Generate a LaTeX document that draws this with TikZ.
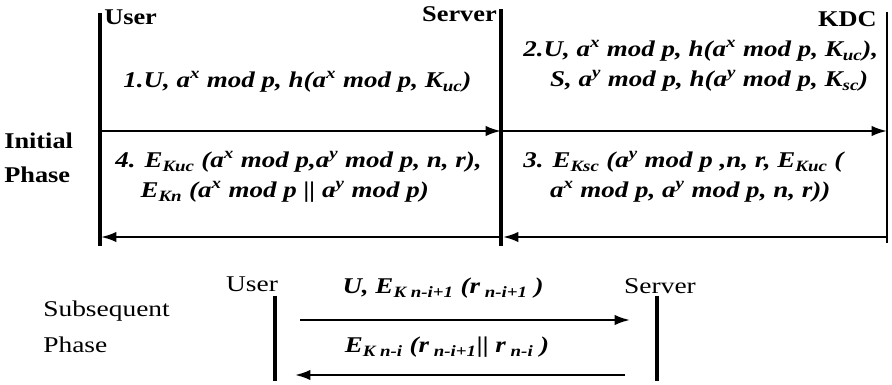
\documentclass[tikz,border=0pt]{standalone}
\usepackage{fontspec}
\setmainfont{Liberation Serif}
\newfontfamily\msgfont[FakeStretch=1.2]{Liberation Serif}
\newfontfamily\tagfont[FakeStretch=1.17]{Liberation Serif}
\newfontfamily\sidefont[FakeStretch=1.22]{Liberation Serif}
\usetikzlibrary{arrows.meta}

\begin{document}
\begin{tikzpicture}[x=0.025cm, y=-0.025cm, >={Latex[length=11pt, width=7.5pt]}]

      % --- Styles ---
      \tikzset{
        msg/.style={font=\msgfont\fontsize{16}{21.3}\selectfont\bfseries\itshape, align=left, inner sep=0pt, anchor=west},
        actor/.style={font=\tagfont\fontsize{16}{24}\selectfont\bfseries, inner sep=0pt},
        actorlight/.style={font=\sidefont\fontsize{16}{26}\selectfont, inner sep=0pt},
        life/.style={line width=2.8pt},
        flow/.style={->, line width=1.6pt}
      }
      \useasboundingbox (0,0) rectangle (892,385);

      % --- Initial Phase: Actors ---
      \node[actor, anchor=west] (user) at (104,17) {User};
      \node[actor, anchor=east] (server) at (497,14) {Server};
      \node[actor, anchor=east] (kdc) at (877,19) {KDC};

      % --- Initial Phase: Lifelines ---
      \coordinate (userTop) at (100,13);   \coordinate (userBot) at (100,246);
      \coordinate (serverTop) at (501,9);  \coordinate (serverBot) at (501,246);
      \coordinate (kdcTop) at (887,12);    \coordinate (kdcBot) at (887,243);
      \draw[life] (userTop) -- (userBot);
      \draw[life] (serverTop) -- (serverBot);
      \draw[line width=1.4pt] (kdcTop) -- (kdcBot);

      % --- Initial Phase: Messages ---
      \coordinate (m1a) at (101,131); \coordinate (m1b) at (501,131);
      \coordinate (m2a) at (503,131); \coordinate (m2b) at (887,131);
      \coordinate (m3a) at (887,237); \coordinate (m3b) at (503,237);
      \coordinate (m4a) at (499,237); \coordinate (m4b) at (101,237);
      \draw[flow] (m1a) -- (m1b);
      \draw[flow] (m2a) -- (m2b);
      \draw[flow] (m3a) -- (m3b);
      \draw[flow] (m4a) -- (m4b);

      \node[msg] (t1) at (123,82) {1.U, a\textsuperscript{x} mod p, h(a\textsuperscript{x} mod p, K\textsubscript{uc})};
      \node[msg] (t2) at (523,66) {2.U, a\textsuperscript{x} mod p, h(a\textsuperscript{x} mod p, K\textsubscript{uc}),\\
        \hspace*{19pt}S, a\textsuperscript{y} mod p, h(a\textsuperscript{y} mod p, K\textsubscript{sc})};
      \node[msg] (t3) at (523,177) {3. E\textsubscript{Ksc} (a\textsuperscript{y} mod p ,n, r, E\textsubscript{Kuc} (\\
        \hspace*{19pt}a\textsuperscript{x} mod p, a\textsuperscript{y} mod p, n, r))};
      \node[msg] (t4) at (115,177) {4. E\textsubscript{Kuc} (a\textsuperscript{x} mod p,a\textsuperscript{y} mod p, n, r),\\
        \hspace*{18pt}E\textsubscript{Kn} (a\textsuperscript{x} mod p || a\textsuperscript{y} mod p)};

      \node[actor, align=left, anchor=west] (initial) at (4,158) {Initial\\Phase};

      % --- Subsequent Phase ---
      \node[actorlight, align=left, anchor=west] (subsequent) at (43,327) {Subsequent\\Phase};
      \node[actorlight] (user2) at (252,284) {User};
      \node[actorlight] (server2) at (660,286) {Server};

      \coordinate (user2Top) at (275,296);   \coordinate (user2Bot) at (275,381);
      \coordinate (server2Top) at (657,296); \coordinate (server2Bot) at (657,381);
      \draw[line width=2.2pt] (user2Top) -- (user2Bot);
      \draw[line width=2.2pt] (server2Top) -- (server2Bot);

      \coordinate (m5a) at (300,320); \coordinate (m5b) at (630,320);
      \coordinate (m6a) at (625,375); \coordinate (m6b) at (295,375);
      \draw[flow] (m5a) -- (m5b);
      \draw[flow] (m6a) -- (m6b);

      \node[msg, anchor=center] (t5) at (443,288) {U, E\textsubscript{K n-i+1} (r\textsubscript{ n-i+1} )};
      \node[msg, anchor=center] (t6) at (447,347) {E\textsubscript{K n-i} (r\textsubscript{ n-i+1}|| r\textsubscript{ n-i} )};

    \end{tikzpicture}
\end{document}
